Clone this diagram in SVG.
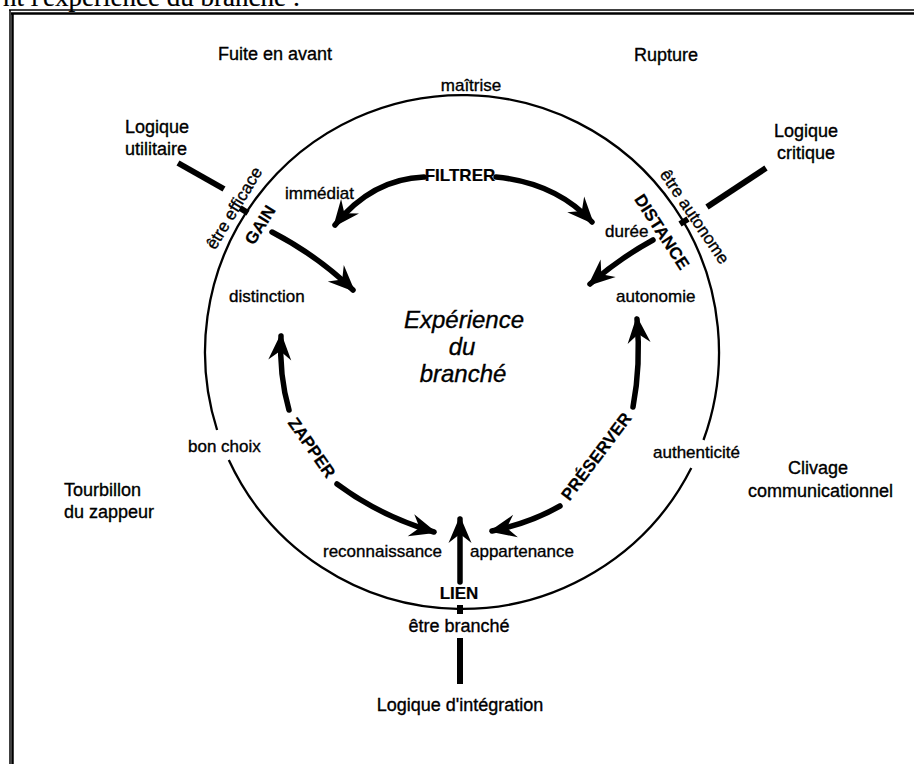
<svg xmlns="http://www.w3.org/2000/svg" width="914" height="764" viewBox="0 0 914 764">
<style>
text{font-family:"Liberation Sans",Arial,sans-serif;fill:#000;stroke:#000;stroke-width:0.35}
.o{font-size:18px}
.s{font-size:17px}
.b{font-weight:bold;font-size:17px;stroke-width:0.2}
.t{font-family:"Liberation Serif","Times New Roman",serif;font-size:27px;stroke-width:0.2}
.i{font-style:italic;font-size:24px}
.arr{fill:none;stroke:#000;stroke-width:5.5;stroke-linecap:round;marker-end:url(#ah)}
.bar{stroke:#000;stroke-width:6}
.frame{stroke:#000;fill:none}
</style>
<defs>
<marker id="ah" markerUnits="userSpaceOnUse" viewBox="-28 -14 32 28" markerWidth="32" markerHeight="28" refX="0" refY="0" orient="auto">
<path d="M3,0 L-24,-11.5 L-15,0 L-24,11.5 Z" fill="#000"/>
</marker>
</defs>
<rect width="914" height="764" fill="#fff"/>
<text class="t" x="3" y="6">nt l'expérience du branché :</text>
<g id="frame">
<line class="frame" x1="9" y1="10" x2="914" y2="10" stroke-width="1.5"/>
<line class="frame" x1="11" y1="13.5" x2="914" y2="13.5" stroke-width="2.5"/>
<line class="frame" x1="10" y1="10" x2="10" y2="764" stroke-width="1.5"/>
<line class="frame" x1="12.5" y1="13" x2="12.5" y2="764" stroke-width="2.5"/>
</g>
<g id="cycle">
<path d="M228.8,460 A257,257 0 0 0 691.3,468" fill="none" stroke="#000" stroke-width="2.3"/>
<path d="M703.5,440 A257,257 0 1 0 217.1,430" fill="none" stroke="#000" stroke-width="2.3"/>
</g>
<g id="connectors">
<path class="arr" d="M424,177 Q372,179 335,225"/>
<path class="arr" d="M496,177 Q556,183 592,222"/>
<path class="arr" d="M272,232 Q318,256 353,290"/>
<path class="arr" d="M653,240 Q620,258 590,284"/>
<path class="arr" d="M289,410 Q279,375 281,336"/>
<path class="arr" d="M337,484 Q380,516 434,532"/>
<path class="arr" d="M633,407 Q641,365 637,319"/>
<path class="arr" d="M560,506 Q530,523 492,531"/>
<path class="arr" d="M460,582 L460,519"/>
<line class="bar" x1="178" y1="163" x2="224" y2="189"/>
<line class="bar" x1="240" y1="208" x2="248" y2="213"/>
<line class="bar" x1="766" y1="168" x2="707" y2="207"/>
<line class="bar" x1="688" y1="219" x2="680" y2="224"/>
<line class="bar" x1="460" y1="638" x2="460" y2="684" stroke-width="7"/>
<line class="bar" x1="460" y1="605" x2="460" y2="614"/>
</g>
<g id="fuite"><text class="o" x="275" y="60" text-anchor="middle">Fuite en avant</text></g>
<g id="rupture"><text class="o" x="666" y="61" text-anchor="middle">Rupture</text></g>
<g id="maitrise"><text class="s" x="471" y="91" text-anchor="middle">maîtrise</text></g>
<g id="utilitaire"><text class="o" x="125" y="133">Logique</text><text class="o" x="125" y="155">utilitaire</text></g>
<g id="critique"><text class="o" x="806" y="137" text-anchor="middle">Logique</text><text class="o" x="806" y="159" text-anchor="middle">critique</text></g>
<g id="filtrer"><text class="b" x="460" y="181" text-anchor="middle">FILTRER</text></g>
<g id="immediat"><text class="s" x="285" y="199">immédiat</text></g>
<g id="duree"><text class="s" x="605" y="237">durée</text></g>
<g id="efficace"><text class="s" transform="translate(239,211) rotate(-59)" text-anchor="middle">être efficace</text></g>
<g id="gain"><text class="b" transform="translate(265,228) rotate(-58)" text-anchor="middle">GAIN</text></g>
<g id="autonome"><text class="s" transform="translate(690,220) rotate(56)" text-anchor="middle">être autonome</text></g>
<g id="distance"><text class="b" transform="translate(657,235) rotate(57)" text-anchor="middle">DISTANCE</text></g>
<g id="distinction"><text class="s" x="229" y="302">distinction</text></g>
<g id="autonomie"><text class="s" x="616" y="302">autonomie</text></g>
<g id="experience"><text class="i" x="464" y="328" text-anchor="middle">Expérience</text><text class="i" x="462" y="355" text-anchor="middle">du</text><text class="i" x="463" y="382" text-anchor="middle">branché</text></g>
<g id="bonchoix"><text class="s" x="188" y="452">bon choix</text></g>
<g id="tourbillon"><text class="o" x="64" y="496">Tourbillon</text><text class="o" x="64" y="518">du zappeur</text></g>
<g id="zapper"><text class="b" transform="translate(307,451) rotate(55)" text-anchor="middle">ZAPPER</text></g>
<g id="preserver"><text class="b" transform="translate(601,460) rotate(-53)" text-anchor="middle">PRÉSERVER</text></g>
<g id="authenticite"><text class="s" x="653" y="458">authenticité</text></g>
<g id="clivage"><text class="o" x="818" y="474" text-anchor="middle">Clivage</text><text class="o" x="748" y="497">communicationnel</text></g>
<g id="reconnaissance"><text class="s" x="323" y="557">reconnaissance</text></g>
<g id="appartenance"><text class="s" x="470" y="557">appartenance</text></g>
<g id="lien"><text class="b" x="459" y="599" text-anchor="middle">LIEN</text></g>
<g id="branche"><text class="o" x="459" y="632" text-anchor="middle">être branché</text></g>
<g id="integration"><text class="o" x="460" y="711" text-anchor="middle">Logique d'intégration</text></g>
</svg>
